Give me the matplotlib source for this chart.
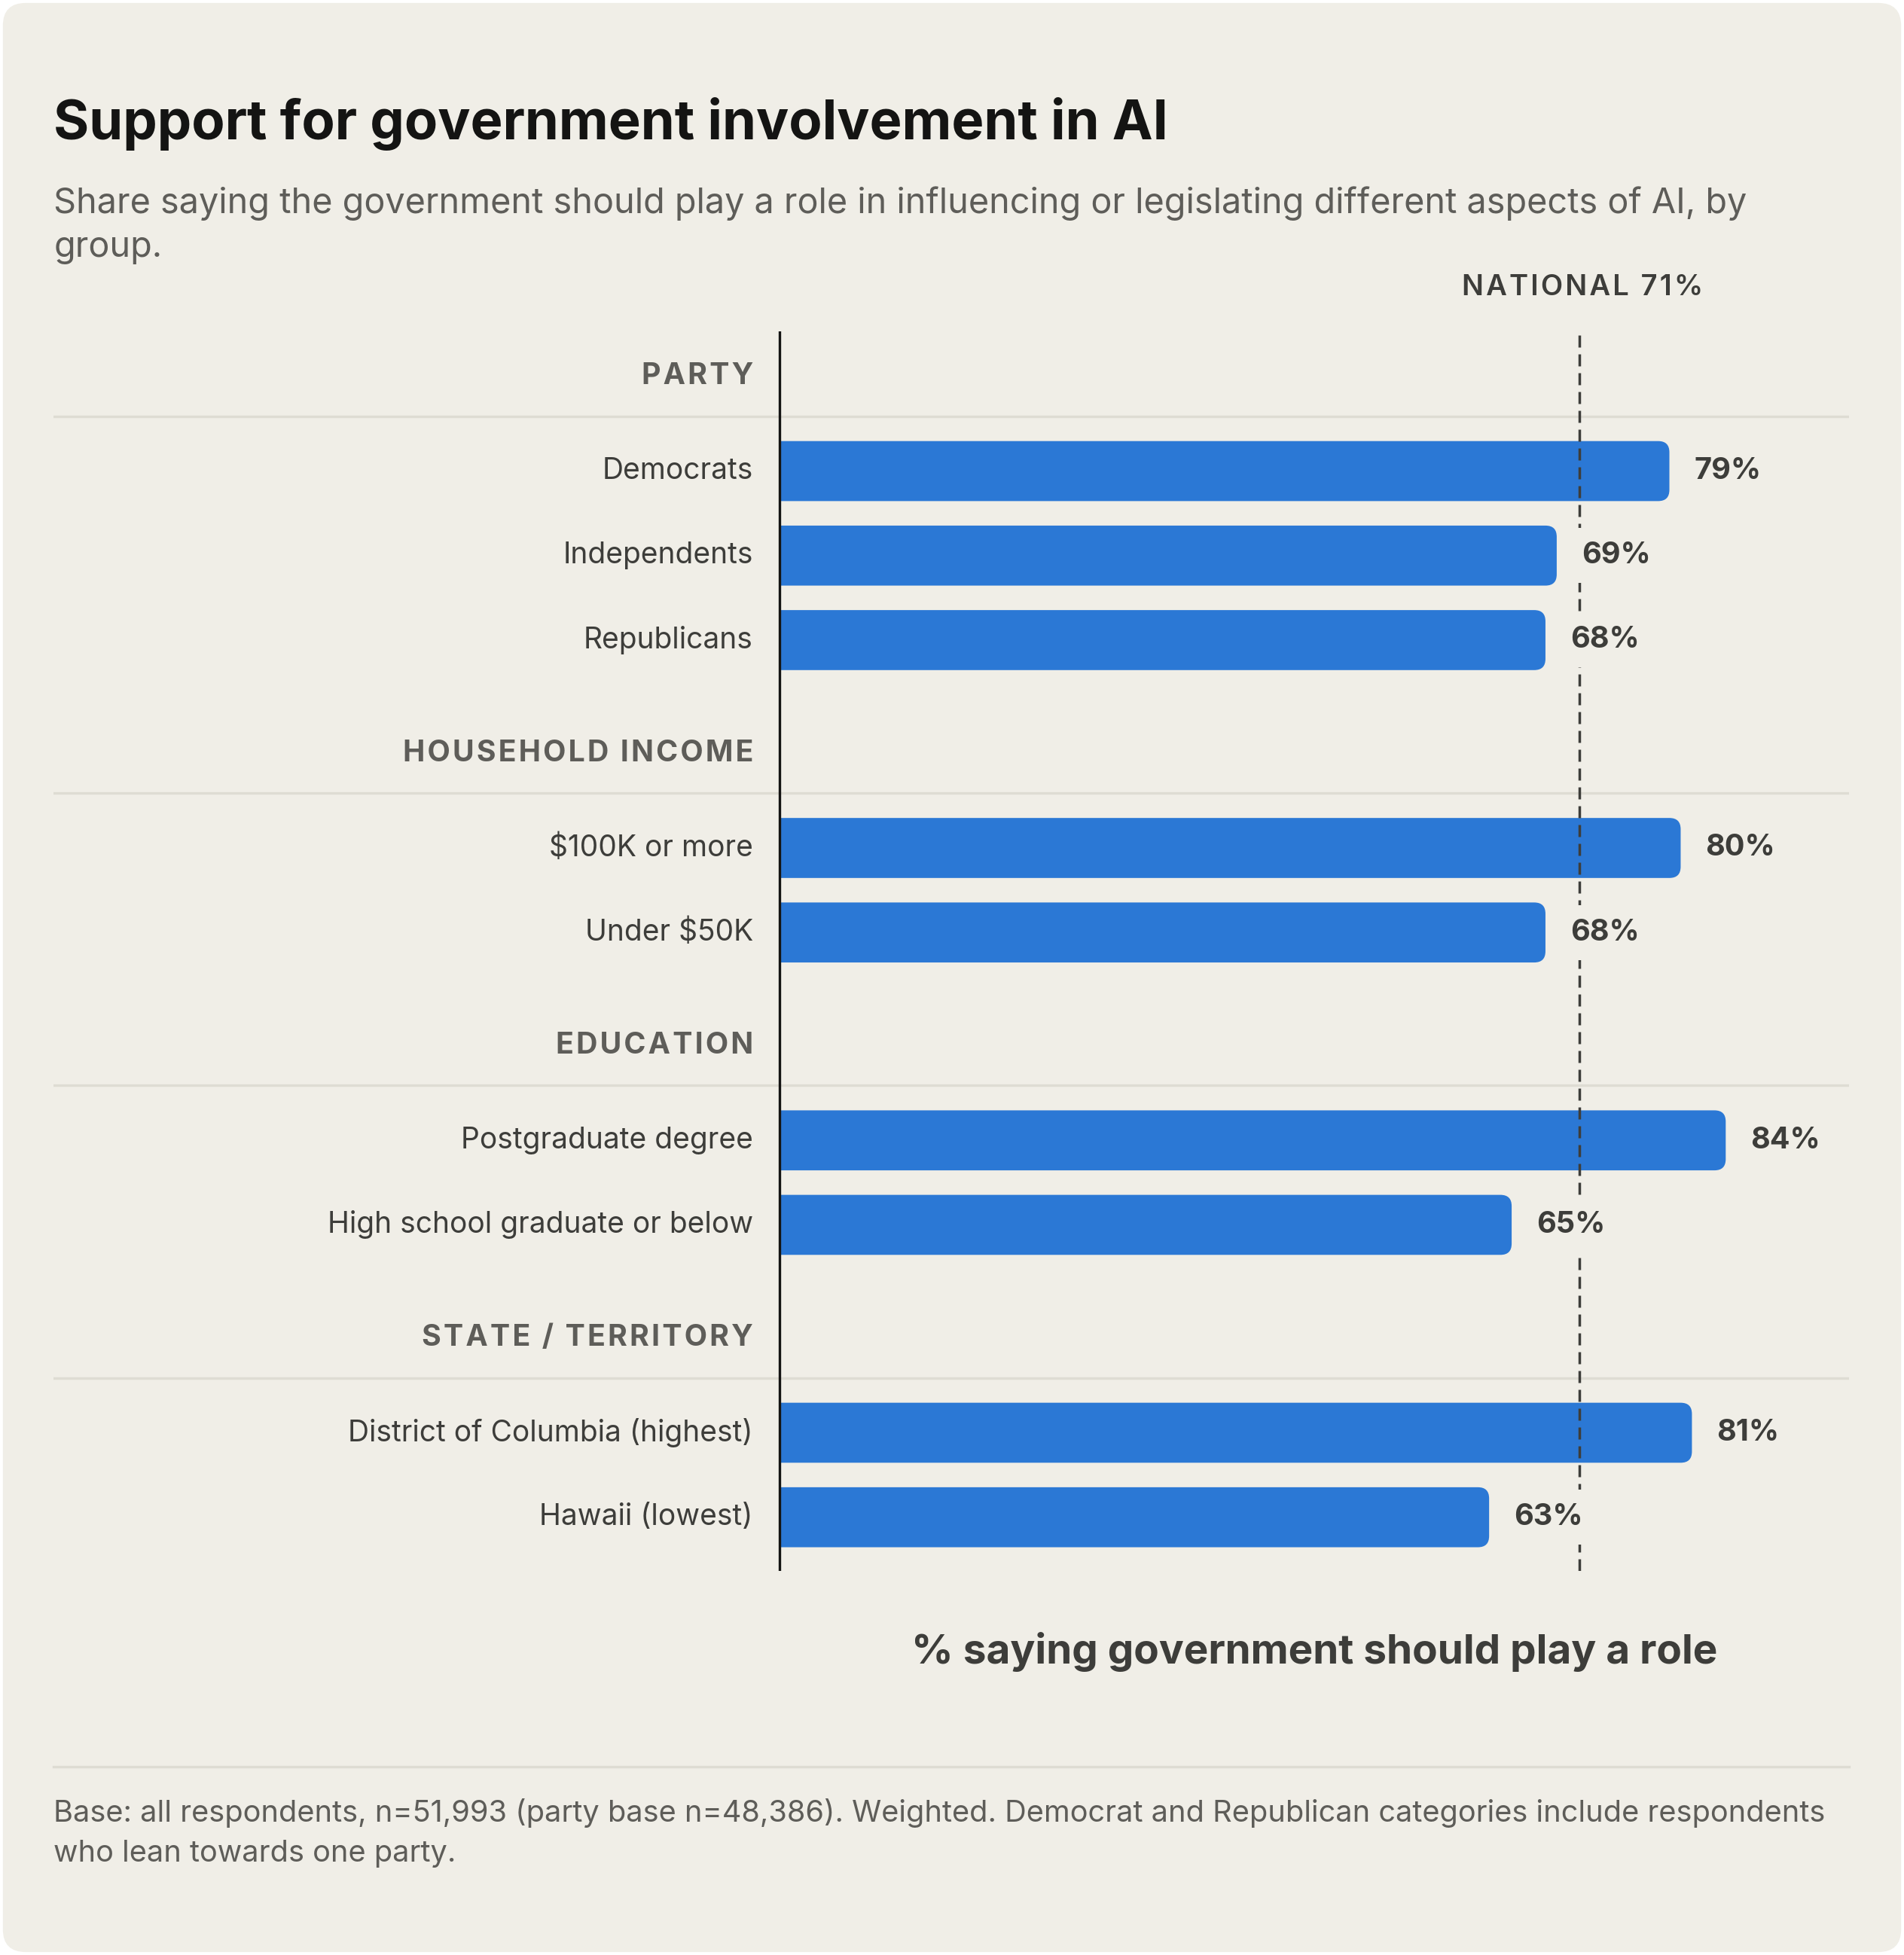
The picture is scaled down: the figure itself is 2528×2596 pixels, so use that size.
import numpy as np
import matplotlib
matplotlib.use("Agg")
import matplotlib.pyplot as plt
from matplotlib.patches import FancyBboxPatch, PathPatch
from matplotlib.path import Path
from matplotlib.lines import Line2D

# ---- data ----
groups = ["PARTY", "HOUSEHOLD INCOME", "EDUCATION", "STATE / TERRITORY"]
party_labels = ["Democrats", "Independents", "Republicans"]
party_values = [79, 69, 68]
income_labels = ["$100K or more", "Under $50K"]
income_values = [80, 68]
edu_labels = ["Postgraduate degree", "High school graduate or below"]
edu_values = [84, 65]
state_labels = ["District of Columbia (highest)", "Hawaii (lowest)"]
state_values = [81, 63]
national = 71

group_items = [(party_labels, party_values), (income_labels, income_values),
               (edu_labels, edu_values), (state_labels, state_values)]

# ---- style ----
FONT = ["Inter", "DejaVu Sans"]
plt.rcParams["font.family"] = FONT
CARD = "#F0EEE7"
DARK = "#141413"
TXT = "#3D3D3A"
GREY = "#5E5D59"
BLUE = "#2B78D5"
RULE = "#DEDCD3"

W, H = 1527.0, 1568.0  # layout grid of the reference


def fx(px):
    return px / W


def fy(py):
    return 1 - py / H


def spaced(s):
    return "\u200a".join(s)


def round_bar(v, yc, h, rx, ry):
    # square on the left, rounded corners on the right
    y0, y1 = yc - h / 2, yc + h / 2
    verts = [(0, y0), (v - rx, y0), (v, y0), (v, y0 + ry), (v, y1 - ry),
             (v, y1), (v - rx, y1), (0, y1), (0, y0)]
    codes = [Path.MOVETO, Path.LINETO, Path.CURVE3, Path.CURVE3, Path.LINETO,
             Path.CURVE3, Path.CURVE3, Path.LINETO, Path.CLOSEPOLY]
    return Path(verts, codes)


fig = plt.figure(figsize=(25.28, 25.96), dpi=100)
fig.patch.set_facecolor("white")
card = FancyBboxPatch((0.0015, 0.0015), 0.997, 0.997,
                      boxstyle="round,pad=0,rounding_size=0.012",
                      mutation_aspect=2528 / 2596,
                      transform=fig.transFigure, facecolor=CARD,
                      edgecolor="none", zorder=-10)
fig.patches.append(card)

# title block
fig.text(fx(43), fy(112), "Support for government involvement in AI",
         fontsize=52, fontweight="bold", color=DARK, va="baseline")
fig.text(fx(43), fy(171), "Share saying the government should play a role in "
         "influencing or legislating different aspects of AI, by",
         fontsize=33.7, color=GREY, va="baseline")
fig.text(fx(43), fy(206), "group.", fontsize=33.7, color=GREY, va="baseline")

# ---- axes ----
ax_top, ax_bot = 266, 1260
ax = fig.add_axes([fx(43), fy(ax_bot), fx(1483) - fx(43), (ax_bot - ax_top) / H])
ax.set_facecolor("none")
for s in ax.spines.values():
    s.set_visible(False)
ax.set_xticks([])
ax.set_yticks([])

px_per_pct = 9.036
x0_px = 625
ax.set_xlim((43 - x0_px) / px_per_pct, (1483 - x0_px) / px_per_pct)

# vertical layout in row units
y = 0.53
header_y, sep_y, bar_y, labels, values = [], [], [], [], []
for (labs, vals) in group_items:
    header_y.append(y)
    sep_y.append(y + 0.47)
    y += 1.12
    for lab, v in zip(labs, vals):
        bar_y.append(y)
        labels.append(lab)
        values.append(v)
        y += 1
    y += 0.34
bottom = bar_y[-1] + 0.636
ax.set_ylim(bottom, 0)

unit_px = (ax_bot - ax_top) / bottom
label_x = -21 / px_per_pct

bar_h = 0.71
r_x = 9 / px_per_pct
r_y = 9 / unit_px
for yy, v in zip(bar_y, values):
    ax.add_patch(PathPatch(round_bar(v, yy, bar_h, r_x, r_y), facecolor=BLUE,
                           edgecolor="none", zorder=2))
    ax.text(v + 20 / px_per_pct, yy, "%d%%" % v, fontsize=28.5,
            fontweight="bold", color=TXT, va="center", ha="left", zorder=6,
            bbox=dict(boxstyle="square,pad=0.45", facecolor=CARD,
                      edgecolor="none"))

for lab, yy in zip(labels, bar_y):
    ax.text(label_x, yy, lab, fontsize=28, color=TXT, ha="right", va="center")

for g, hy, sy in zip(groups, header_y, sep_y):
    ax.text(label_x, hy, spaced(g), fontsize=28.3, fontweight="bold", color=GREY,
            ha="right", va="center")
    ax.axhline(sy, color=RULE, lw=2.4, zorder=1)

ax.axvline(0, color=DARK, lw=2.4, zorder=4)
ax.axvline(national, color=TXT, lw=2.5, dashes=(4.6, 2.6), zorder=5)
ax.text(national + 0.3, (231 - ax_top) / unit_px, spaced("NATIONAL %d%%" % national),
        fontsize=27.5, fontweight="semibold", color=TXT, ha="center", va="center",
        clip_on=False)

# x axis title
ax.text(47.5, (1325 - ax_top) / unit_px, "% saying government should play a role",
        fontsize=39.5, fontweight="bold", color=TXT, ha="center", va="center",
        clip_on=False)

# footer
fig.add_artist(Line2D([fx(43), fx(1483)], [fy(1417), fy(1417)], color=RULE,
                      lw=2.4, transform=fig.transFigure))
fig.text(fx(43), fy(1461), "Base: all respondents, n=51,993 (party base n=48,386). "
         "Weighted. Democrat and Republican categories include respondents",
         fontsize=28.6, color=GREY, va="baseline")
fig.text(fx(43), fy(1493), "who lean towards one party.",
         fontsize=28.6, color=GREY, va="baseline")

fig.savefig("out.png", dpi=100, facecolor=fig.get_facecolor())
